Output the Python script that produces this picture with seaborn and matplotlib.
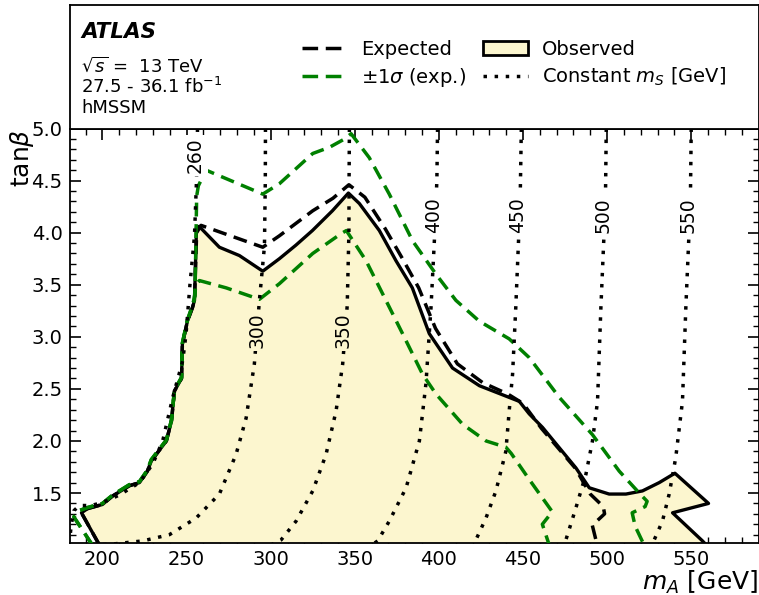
import pandas as pd
import seaborn as sns
import matplotlib.pyplot as plt
from matplotlib.lines import Line2D
from matplotlib.patches import Patch
from matplotlib.ticker import MultipleLocator

# observed exclusion contour (m_A, tan beta)
obs_x = [198.2, 187.5, 191.1, 200.0, 205.9, 216.0, 222.0, 226.7, 229.1, 238.0, 241.0, 242.8, 247.0, 247.5,
         250.5, 253.5, 254.7, 255.9, 257.5, 269.5, 281.4, 295.3, 305.2, 315.0, 324.8, 336.7, 346.2, 352.7,
         364.6, 374.5, 384.2, 394.3, 408.1, 424.1, 439.9, 447.8, 453.7, 461.6, 481.5, 489.4, 501.2, 511.2,
         521.0, 531.0, 540.3, 560.3, 538.9, 556.7, 559.0]
obs_y = [1.0, 1.31, 1.35, 1.39, 1.47, 1.57, 1.60, 1.71, 1.81, 2.0, 2.19, 2.48, 2.60, 2.93,
         3.15, 3.28, 3.35, 4.05, 4.06, 3.86, 3.78, 3.63, 3.75, 3.88, 4.02, 4.21, 4.38, 4.28,
         4.02, 3.73, 3.47, 3.03, 2.70, 2.53, 2.43, 2.38, 2.26, 2.13, 1.74, 1.55, 1.49, 1.49,
         1.52, 1.60, 1.69, 1.40, 1.31, 1.04, 1.0]

exp_x = [198.2, 187.5, 191.1, 200.0, 205.9, 216.0, 222.0, 226.7, 229.1, 238.0, 241.0, 242.8, 247.0, 247.5,
         250.5, 253.5, 254.7, 256.0, 258.6, 295.3, 305.2, 325.0, 337.0, 346.5, 356.0, 368.0, 378.0, 388.0,
         398.0, 411.0, 426.0, 441.0, 450.0, 461.0, 481.0, 490.0, 497.7, 498.5, 491.2, 494.1]
exp_y = [1.0, 1.31, 1.35, 1.39, 1.47, 1.57, 1.60, 1.71, 1.81, 2.0, 2.19, 2.48, 2.60, 2.93,
         3.15, 3.28, 3.35, 4.0, 4.07, 3.86, 3.97, 4.21, 4.33, 4.46, 4.34, 4.04, 3.76, 3.47,
         3.08, 2.74, 2.56, 2.45, 2.36, 2.12, 1.74, 1.49, 1.37, 1.30, 1.19, 1.0]

up_x = [194.0, 183.0, 186.0, 191.0, 200.0, 206.0, 216.0, 222.0, 226.7, 229.0, 238.0, 241.0, 242.8, 247.0,
        247.5, 250.5, 253.5, 255.0, 256.0, 257.0, 261.6, 295.3, 305.2, 325.0, 335.0, 344.0, 347.8, 358.6,
        370.5, 384.4, 398.3, 410.1, 424.0, 441.8, 453.7, 471.5, 491.3, 507.2, 519.1, 523.8, 522.6, 514.9,
        516.7, 522.0]
up_y = [1.0, 1.27, 1.33, 1.36, 1.40, 1.48, 1.58, 1.61, 1.72, 1.82, 2.01, 2.20, 2.49, 2.61,
        2.94, 3.16, 3.30, 3.40, 4.35, 4.45, 4.60, 4.37, 4.47, 4.76, 4.82, 4.90, 4.95, 4.72,
        4.37, 3.92, 3.60, 3.35, 3.15, 2.98, 2.80, 2.42, 2.06, 1.71, 1.50, 1.42, 1.37, 1.31,
        1.18, 1.0]

lo_x = [194.0, 183.0, 186.0, 191.0, 200.0, 206.0, 216.0, 222.0, 226.7, 229.0, 238.0, 241.0, 242.8, 247.0,
        247.5, 250.5, 253.5, 254.5, 255.5, 257.6, 273.5, 293.3, 305.2, 325.0, 341.8, 345.0, 356.7, 368.5,
        378.4, 390.3, 398.3, 414.1, 428.0, 439.8, 443.0, 453.7, 467.4, 461.5, 465.6]
lo_y = [1.0, 1.27, 1.33, 1.36, 1.40, 1.48, 1.58, 1.61, 1.72, 1.82, 2.01, 2.20, 2.49, 2.61,
        2.94, 3.16, 3.30, 3.35, 3.50, 3.54, 3.47, 3.36, 3.51, 3.80, 3.99, 4.02, 3.73, 3.35,
        3.03, 2.64, 2.45, 2.16, 2.00, 1.94, 1.88, 1.63, 1.32, 1.20, 1.0]

# constant m_S contours
ms_values = [260, 300, 350, 400, 450, 500, 550]
ms_x = {
    260: [256.5, 255.9, 254.7, 252.0, 249.7, 247.7, 241.8, 235.8, 229.9, 222.0, 210.0, 200.2, 193.3, 186.3,
          183.0, 181.5, 180.5],
    300: [296.9, 296.8, 296.3, 293.3, 290.3, 285.4, 279.4, 269.5, 255.7, 239.8, 223.9, 206.0, 195.0],
    350: [346.8, 346.6, 346.5, 345.5, 342.8, 338.9, 332.9, 325.0, 315.1, 306.2, 300.0],
    400: [399.2, 398.8, 397.3, 395.3, 392.3, 388.4, 380.5, 370.5, 363.6, 360.0],
    450: [449.0, 448.3, 445.7, 443.8, 441.8, 439.8, 433.9, 428.0, 422.0, 420.0],
    500: [499.5, 499.0, 496.3, 494.3, 491.3, 487.4, 481.5, 475.5, 473.0],
    550: [550.0, 549.5, 546.8, 544.8, 540.8, 536.9, 532.9, 528.0, 526.0],
}
ms_y = {
    260: [5.0, 4.5, 3.97, 3.5, 3.03, 2.77, 2.42, 2.0, 1.78, 1.60, 1.48, 1.41, 1.38, 1.38,
          1.33, 1.2, 1.05],
    300: [5.0, 4.5, 3.87, 3.35, 2.74, 2.22, 1.87, 1.49, 1.26, 1.10, 1.04, 1.01, 1.0],
    350: [5.0, 4.5, 4.0, 3.3, 2.74, 2.29, 1.87, 1.52, 1.23, 1.05, 1.0],
    400: [5.0, 4.5, 3.92, 3.28, 2.55, 2.0, 1.55, 1.23, 1.04, 1.0],
    450: [5.0, 4.3, 3.28, 2.64, 2.29, 1.90, 1.52, 1.26, 1.05, 1.0],
    500: [5.0, 4.3, 3.28, 2.38, 2.0, 1.68, 1.36, 1.05, 1.0],
    550: [5.0, 4.3, 3.28, 2.38, 1.84, 1.49, 1.23, 1.05, 1.0],
}
label_x = [255.3, 292.1, 343.2, 396.7, 446.6, 497.7, 548.2]
label_y = [4.74, 3.06, 3.06, 4.17, 4.17, 4.17, 4.17]

fill_col = "#fcf6cf"
green = "#008000"
dash = (0, (4, 2.2))
dot = (0, (1, 2.2))

sns.set_theme(style="ticks")
plt.rcParams["font.family"] = ["DejaVu Sans"]
plt.rcParams["mathtext.fontset"] = "dejavusans"
plt.rcParams["text.color"] = "black"
plt.rcParams["axes.labelcolor"] = "black"
plt.rcParams["xtick.color"] = "black"
plt.rcParams["ytick.color"] = "black"

fig = plt.figure(figsize=(7.59, 5.95), dpi=100)
ax = fig.add_axes([69.5 / 759, 1 - 543 / 595, 689 / 759, (543 - 128.5) / 595])
top = fig.add_axes([69.5 / 759, 1 - 128.5 / 595, 689 / 759, (128.5 - 5) / 595])
top.set_xticks([])
top.set_yticks([])
for s in top.spines.values():
    s.set_linewidth(1.3)
    s.set_color("black")

ax.fill(obs_x, obs_y, color=fill_col, lw=0, zorder=1)


def draw(x, y, **kw):
    df = pd.DataFrame({"x": x, "y": y})
    sns.lineplot(data=df, x="x", y="y", sort=False, estimator=None, ax=ax, **kw)


draw(obs_x, obs_y, color="black", lw=2.4, zorder=3)
draw(exp_x, exp_y, color="black", lw=2.5, linestyle=dash, zorder=4)
draw(up_x, up_y, color=green, lw=2.5, linestyle=dash, zorder=5)
draw(lo_x, lo_y, color=green, lw=2.5, linestyle=dash, zorder=5)
for i, m in enumerate(ms_values):
    draw(ms_x[m], ms_y[m], color="black", lw=2.5, linestyle=dot, zorder=6)
    bg = fill_col if m in (300, 350) else "white"
    ax.text(label_x[i], label_y[i], str(m), rotation=90, ha="center", va="center", fontsize=13.5,
            bbox=dict(boxstyle="square,pad=0.15", fc=bg, ec="none"), zorder=7)

ax.set_xlim(180.4, 590)
ax.set_ylim(1.02, 5.0)
ax.xaxis.set_major_locator(MultipleLocator(50))
ax.xaxis.set_minor_locator(MultipleLocator(10))
ax.yaxis.set_major_locator(MultipleLocator(0.5))
ax.yaxis.set_minor_locator(MultipleLocator(0.1))
ax.tick_params(which="both", direction="in", top=True, right=True, colors="black", labelsize=14)
ax.tick_params(which="major", length=8, width=1.2, pad=5)
ax.tick_params(which="minor", length=4, width=1.0)
for s in ax.spines.values():
    s.set_linewidth(1.3)
    s.set_color("black")
ax.set_xlabel(r"$m_A$ [GeV]", loc="right", fontsize=18, labelpad=0)
ax.set_ylabel(r"tan$\beta$", loc="top", fontsize=18, labelpad=-3)

handles = [Line2D([], [], color="black", lw=2.5, linestyle=(0, (4.5, 2.2))),
           Line2D([], [], color=green, lw=2.5, linestyle=(0, (4.5, 2.2))),
           Patch(facecolor=fill_col, edgecolor="black", lw=2),
           Line2D([], [], color="black", lw=2.5, linestyle=dot)]
labels = ["Expected", r"$\pm1\sigma$ (exp.)", "Observed", r"Constant $m_S$ [GeV]"]
top.legend(handles, labels, ncol=2, loc="center left", bbox_to_anchor=(0.338, 0.52), frameon=False,
           fontsize=14, handlelength=2.3, handletextpad=0.7, columnspacing=0.9, labelspacing=0.35,
           borderpad=0, borderaxespad=0)

fig.text(81 / 759, 1 - 38 / 595, "ATLAS", fontsize=15.5, fontweight="bold", fontstyle="italic", va="baseline")
fig.text(81 / 759, 1 - 72 / 595, r"$\sqrt{s}$ =  13 TeV", fontsize=13, va="baseline")
fig.text(81 / 759, 1 - 93 / 595, r"27.5 - 36.1 fb$^{-1}$", fontsize=13, va="baseline")
fig.text(81 / 759, 1 - 113 / 595, "hMSSM", fontsize=13, va="baseline")

fig.savefig("out.png", dpi=100)
